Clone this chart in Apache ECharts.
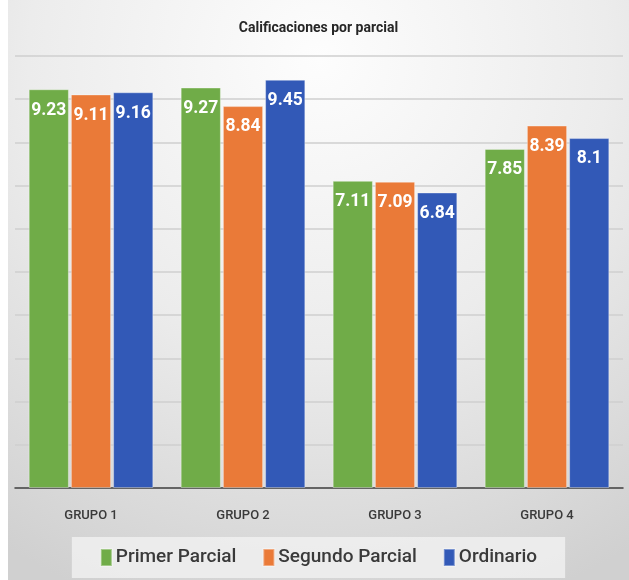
<!DOCTYPE html>
<html>
<head>
<meta charset="utf-8">
<script src="https://cdn.jsdelivr.net/npm/echarts@6/dist/echarts.min.js"></script>
<style>
html,body{margin:0;padding:0;background:#ffffff;}
#c{position:absolute;left:8px;top:0;width:621px;height:580px;}
</style>
</head>
<body>
<div id="c"></div>
<script>
const categories = ['GRUPO 1', 'GRUPO 2', 'GRUPO 3', 'GRUPO 4'];
const primerParcial = [9.23, 9.27, 7.11, 7.85];
const segundoParcial = [9.11, 8.84, 7.09, 8.39];
const ordinario = [9.16, 9.45, 6.84, 8.1];
const yTicks = [0, 10, 1];

const FONT = "'Roboto', 'Liberation Sans', sans-serif";
const chart = echarts.init(document.getElementById('c'), null, {renderer: 'canvas'});

function mk(name, data, color) {
  return {
    name: name, type: 'bar', data: data,
    barGap: '5%', barCategoryGap: '18%',
    itemStyle: {color: color, borderColor: 'rgba(255,255,255,0.35)', borderWidth: 1},
    label: {
      show: true, position: 'insideTop', distance: 12,
      color: '#ffffff', fontFamily: FONT, fontWeight: 'bold', fontSize: 17.5
    }
  };
}

chart.setOption({
  backgroundColor: {
    type: 'radial', x: 0.5, y: 0.1, r: 1.0,
    colorStops: [
      {offset: 0, color: '#fdfdfd'},
      {offset: 0.5, color: '#ececec'},
      {offset: 1, color: '#d0d0d0'}
    ]
  },
  title: {
    text: 'Calificaciones por parcial', left: 'center', top: 16,
    textStyle: {fontFamily: FONT, fontWeight: 'bold', fontSize: 14, color: '#262626'}
  },
  legend: {
    bottom: 2, left: 'center',
    itemWidth: 11, itemHeight: 17, itemGap: 26,
    padding: [11, 28, 11, 28],
    backgroundColor: 'rgba(240,240,240,0.85)',
    icon: 'rect',
    textStyle: {fontFamily: FONT, fontSize: 19, fontWeight: 500, color: '#3a3a3a', padding: [0, 0, 0, -1]},
    data: ['Primer Parcial', 'Segundo Parcial', 'Ordinario']
  },
  grid: {left: 7, right: 6, top: 56, bottom: 92, containLabel: false},
  xAxis: {
    type: 'category', data: categories,
    axisLine: {lineStyle: {color: '#404040', width: 1.5}},
    axisTick: {show: false},
    axisLabel: {fontFamily: FONT, fontSize: 13, fontWeight: 500, color: '#3a3a3a', margin: 21}
  },
  yAxis: {
    type: 'value', min: yTicks[0], max: yTicks[1], interval: yTicks[2],
    axisLabel: {show: false}, axisLine: {show: false}, axisTick: {show: false},
    splitLine: {lineStyle: {color: '#cfcfcf', width: 1.5}}
  },
  series: [
    mk('Primer Parcial', primerParcial, '#70ac48'),
    mk('Segundo Parcial', segundoParcial, '#ea7a38'),
    mk('Ordinario', ordinario, '#3259b7')
  ]
});
</script>
</body>
</html>
